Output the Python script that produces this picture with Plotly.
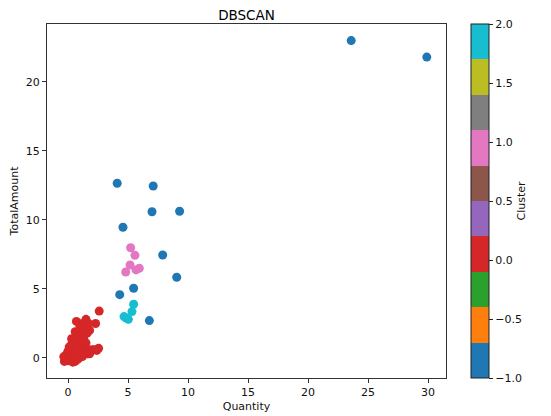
import plotly.graph_objects as go

# Cluster -1 (noise)
noise_x = [23.6, 29.9, 4.1, 7.1, 7.0, 9.3, 4.58, 7.89, 9.06, 5.47, 4.31, 6.78]
noise_y = [23.0, 21.8, 12.66, 12.46, 10.6, 10.63, 9.47, 7.46, 5.85, 5.05, 4.59, 2.71]

# Cluster 0
c0_x = [-0.3, -0.2, -0.1, 0.0, 0.0, 0.0, 0.1, 0.1, 0.2, 0.2, 0.3, 0.3, 0.4, 0.4, 0.5, 0.5,
        0.6, 0.6, 0.7, 0.7, 0.8, 0.8, 0.9, 0.9, 1.0, 1.0, 1.1, 1.1, 1.2, 1.2, 1.3, 1.3,
        1.4, 1.5, 1.5, 1.6, 1.6, 1.7, 1.8, 1.9, 2.0, 2.2, 2.55, 2.3, 2.6, 0.7, 1.5, 1.7,
        0.6, 0.3, 1.0, 0.4, -0.35, 0.8, 1.2, 1.4, 0.9, 1.8, 2.4]
c0_y = [-0.25, 0.0, 0.3, -0.2, 0.1, 0.5, 0.8, -0.1, 0.2, 0.6, 1.0, -0.2, 0.4, 0.0, 0.8, 1.3,
        0.2, -0.25, 0.6, 1.0, 1.5, 0.3, 0.0, 1.9, 0.7, 1.2, 0.4, 1.7, 2.1, 0.1, 0.9, 1.4,
        0.5, 2.3, 1.1, 0.3, 1.8, 0.6, 2.0, 0.5, 0.6, 0.6, 0.7, 2.5, 3.4, 2.65, 2.8, 2.5,
        1.9, 1.4, 2.3, -0.3, 0.1, -0.1, 2.5, 1.9, 1.4, 0.3, 0.55]

# Cluster 1
c1_x = [5.22, 5.58, 5.17, 5.94, 5.67, 4.81]
c1_y = [7.99, 7.44, 6.74, 6.5, 6.38, 6.23]

# Cluster 2
c2_x = [5.47, 5.33, 4.67, 5.03, 4.85]
c2_y = [3.89, 3.36, 3.0, 2.8, 2.9]

tab10 = ["#1f77b4", "#ff7f0e", "#2ca02c", "#d62728", "#9467bd",
         "#8c564b", "#e377c2", "#7f7f7f", "#bcbd22", "#17becf"]

colorscale = []
for i, c in enumerate(tab10):
    colorscale.append([i / 10, c])
    colorscale.append([(i + 1) / 10, c])

xs = noise_x + c0_x + c1_x + c2_x
ys = noise_y + c0_y + c1_y + c2_y
labels = [-1] * len(noise_x) + [0] * len(c0_x) + [1] * len(c1_x) + [2] * len(c2_x)

font = "DejaVu Sans"

# page body has an 8px margin, so the figure is drawn 8px in from the window edge
W, H = 543, 408
L, R, T, B = 39, 105, 16, 38

fig = go.Figure()
fig.add_trace(go.Scatter(
    x=xs, y=ys, mode="markers",
    marker=dict(size=9, color=labels, colorscale=colorscale, cmin=-1, cmax=2,
                line=dict(width=0),
                showscale=True,
                colorbar=dict(
                    x=1.063, xanchor="left", xref="paper",
                    y=0.5, yanchor="middle", len=1, lenmode="fraction",
                    thickness=18, thicknessmode="pixels",
                    outlinecolor="#222", outlinewidth=1,
                    tickmode="array",
                    tickvals=[-1.0, -0.5, 0.0, 0.5, 1.0, 1.5, 2.0],
                    ticktext=["\u22121.0", "\u22120.5", "0.0", "0.5", "1.0", "1.5", "2.0"],
                    ticks="outside", ticklen=4, tickcolor="#222",
                    tickfont=dict(family=font, size=11, color="#111"),
                    title=dict(text="Cluster", side="right",
                               font=dict(family=font, size=11, color="#111")),
                    xpad=0, ypad=0,
                )),
    showlegend=False,
    hoverinfo="skip",
))

axis_common = dict(
    showgrid=False, zeroline=False, showline=True, linecolor="#333", linewidth=1,
    mirror=True, ticks="outside", ticklen=4, tickcolor="#333", automargin=False,
    tickfont=dict(family=font, size=11, color="#111"),
)

fig.update_layout(
    width=W, height=H,
    margin=dict(l=L, r=R, t=T, b=B, autoexpand=False),
    paper_bgcolor="white", plot_bgcolor="white",
    title=dict(text="DBSCAN", x=(L + (W - R)) / 2 / W, xanchor="center",
               y=1 - 7 / H, yanchor="middle", automargin=False,
               font=dict(family=font, size=13.5, color="#000")),
    xaxis=dict(range=[-1.75, 31.5], tickvals=[0, 5, 10, 15, 20, 25, 30],
               title=dict(text="Quantity", standoff=4,
                          font=dict(family=font, size=11, color="#111")),
               **axis_common),
    yaxis=dict(range=[-1.45, 24.2], tickvals=[0, 5, 10, 15, 20],
               title=dict(text="TotalAmount", standoff=6,
                          font=dict(family=font, size=11, color="#111")),
               **axis_common),
)

fig.write_html("out.html")
